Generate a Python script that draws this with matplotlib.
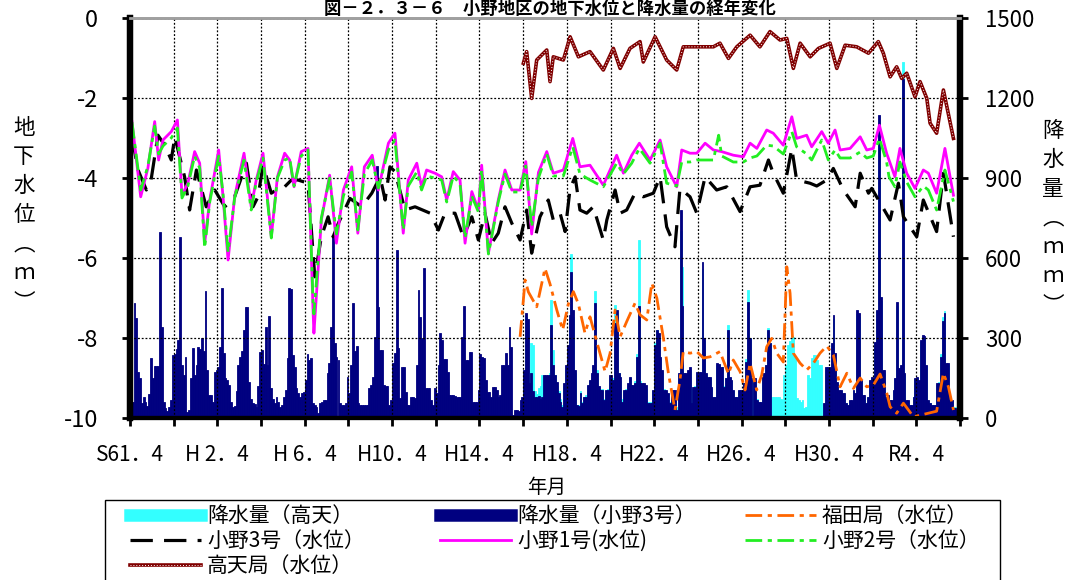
import numpy as np
import matplotlib
matplotlib.use('Agg')
import matplotlib.pyplot as plt
from matplotlib.lines import Line2D
from matplotlib.patches import Rectangle
from matplotlib.legend_handler import HandlerTuple

plt.rcParams['font.family'] = ['Noto Sans CJK JP', 'DejaVu Sans']
plt.rcParams['axes.unicode_minus'] = False

nan = np.nan

# ---------------- monthly precipitation (mm), fiscal-year rows Apr..Mar ----------------
rain_ono3_start = 1986 + 3 / 12          # April 1986
rain_ono3 = [
    [40, 60, 432, 374, 174, 150, 55, 77, 61, 45, 90, 224],       # FY1986
    [150, 196, 196, 196, 699, 342, 60, 36, 25, 40, 67, 236],
    [240, 260, 292, 680, 199, 161, 230, 24, 30, 150, 261, 161],
    [200, 265, 260, 301, 250, 476, 180, 86, 86, 60, 174, 180],
    [190, 267, 486, 242, 149, 142, 124, 60, 42, 45, 100, 199],   # FY1990
    [230, 250, 330, 418, 417, 136, 70, 55, 51, 42, 120, 249],
    [255, 202, 342, 200, 382, 111, 70, 55, 80, 60, 42, 49],
    [80, 105, 224, 489, 482, 236, 192, 111, 92, 80, 92, 99],
    [142, 240, 217, 224, 55, 49, 40, 17, 55, 61, 67, 67],
    [167, 205, 342, 680, 280, 230, 217, 55, 49, 49, 55, 152],    # FY1995
    [92, 200, 432, 250, 270, 55, 49, 49, 49, 49, 49, 111],
    [124, 155, 305, 946, 417, 255, 255, 124, 121, 121, 49, 67],
    [205, 242, 630, 261, 74, 192, 192, 99, 49, 49, 80, 80],
    [74, 200, 480, 380, 300, 561, 111, 111, 111, 67, 49, 111],
    [92, 200, 320, 292, 220, 220, 174, 86, 86, 86, 82, 77],      # FY2000
    [80, 80, 305, 420, 217, 217, 249, 249, 61, 61, 61, 105],
    [240, 230, 224, 142, 99, 99, 80, 117, 117, 105, 80, 86],
    [199, 199, 242, 199, 340, 265, 11, 30, 30, 27, 67, 80],
    [180, 392, 370, 130, 167, 100, 80, 80, 82, 70, 80, 161],
    [161, 161, 161, 349, 200, 161, 136, 92, 60, 42, 130, 200],   # FY2005
    [274, 386, 546, 405, 180, 49, 45, 92, 55, 80, 80, 124],
    [142, 167, 200, 430, 167, 120, 105, 105, 67, 105, 105, 161],
    [161, 142, 355, 405, 167, 152, 61, 105, 105, 130, 155, 124],
    [124, 130, 230, 420, 130, 130, 130, 124, 55, 55, 55, 105],
    [274, 330, 317, 230, 180, 105, 105, 92, 55, 105, 105, 105],  # FY2010
    [30, 167, 780, 420, 167, 170, 180, 192, 55, 117, 117, 174],
    [174, 174, 586, 300, 167, 155, 155, 117, 80, 80, 205, 202],
    [190, 192, 117, 150, 330, 155, 142, 105, 80, 80, 105, 105],
    [105, 130, 211, 436, 300, 149, 149, 149, 67, 61, 61, 155],
    [167, 200, 330, 280, nan, nan, nan, nan, nan, nan, nan, nan],  # FY2015
    [nan, nan, nan, nan, nan, nan, nan, nan, nan, nan, nan, nan],
    [nan, nan, nan, nan, nan, nan, nan, nan, nan, 55, 192, 190],
    [190, 280, 386, 242, 136, 105, 105, 92, 92, 55, 49, 67],
    [67, 105, 92, 405, 392, 142, 86, 86, 55, 80, 142, 155],
    [149, 286, 405, 1136, 455, 180, 180, 80, 86, 67, 67, 105],   # FY2020
    [149, 436, 186, 200, 1273, 167, 67, 67, 49, 49, 80, 149],
    [155, 142, 292, 311, 307, 200, 67, 55, 49, 49, 49, 130],
    [130, 230, 365, 392, 205, 205, 67, 67, 36, 36, 30, 20],
]

rain_takaten_start = 2004 + 3 / 12       # April 2004
rain_takaten = [
    [170, 380, 350, 150, 280, 274, 100, 90, 111, 120, 161, 150],  # FY2004
    [150, 150, 170, 442, 255, 161, 120, 100, 70, 50, 120, 180],
    [260, 380, 614, 380, 170, 50, 50, 100, 60, 80, 85, 120],
    [140, 160, 190, 476, 180, 110, 100, 110, 70, 100, 110, 150],
    [150, 150, 424, 380, 170, 140, 70, 100, 110, 120, 150, 120],
    [120, 140, 240, 667, 140, 120, 120, 110, 60, 60, 60, 100],
    [280, 330, 300, 220, 170, 110, 100, 90, 60, 100, 100, 100],   # FY2010
    [40, 160, 700, 567, 170, 160, 170, 180, 60, 110, 120, 170],
    [170, 170, 560, 290, 160, 150, 150, 110, 80, 80, 200, 200],
    [180, 190, 120, 150, 349, 150, 140, 100, 80, 80, 100, 100],
    [100, 130, 220, 480, 300, 150, 140, 140, 70, 60, 60, 150],
    [160, 200, 336, 280, 80, 80, 80, 80, 80, 70, 67, 161],        # FY2015
    [200, 274, 290, 307, 305, 230, 74, 67, 60, 67, 36, 42],
    [161, 149, 224, 236, 236, 217, 199, 199, 5, 50, 180, 180],
    [180, 270, 370, 230, 130, 100, 100, 90, 90, 55, 50, 65],
    [65, 100, 90, 390, 380, 140, 85, 80, 55, 80, 140, 150],
    [140, 280, 400, 1100, 440, 170, 170, 80, 80, 65, 65, 100],    # FY2020
    [145, 420, 180, 190, 1336, 160, 65, 65, 50, 50, 80, 145],
    [150, 140, 285, 305, 300, 195, 65, 55, 50, 50, 50, 125],
    [135, 240, 380, 400, 200, 200, 65, 65, 40, 40, 35, 25],
]

# ---------------- groundwater levels (m) ----------------
ono1_t = [1986.34, 1986.74, 1987.07, 1987.38, 1987.56, 1987.76, 1988.14, 1988.42, 1988.63, 1988.90,
          1989.21, 1989.44, 1989.67, 1989.90, 1990.31, 1990.51, 1990.74, 1991.04, 1991.47, 1991.80,
          1992.03, 1992.34, 1992.72, 1993.00, 1993.33, 1993.56, 1993.76, 1994.09, 1994.40, 1994.63,
          1994.67, 1995.01, 1995.39, 1995.70, 1996.02, 1996.40, 1996.68, 1996.98, 1997.34, 1997.62,
          1998.08, 1998.38, 1998.76, 1998.99, 1999.38, 1999.60, 1999.83, 2000.21, 2000.52, 2000.75,
          2001.05, 2001.36, 2001.59, 2001.90, 2002.20, 2002.35, 2002.66, 2003.11, 2003.42, 2003.73,
          2004.11, 2004.37, 2004.64, 2004.95, 2005.33, 2005.63, 2006.09, 2006.52, 2006.85, 2007.31,
          2007.92, 2008.53, 2008.84, 2009.22, 2009.57, 2010.06, 2010.52, 2010.82, 2011.28, 2011.51,
          2011.89, 2012.20, 2012.58, 2012.96, 2013.34, 2013.87, 2014.33, 2014.64, 2014.95, 2015.40,
          2015.70, 2016.16, 2016.55, 2016.77, 2017.23, 2017.46, 2017.92, 2018.22, 2018.53, 2018.76,
          2019.22, 2019.68, 2019.98, 2020.28, 2020.56, 2020.89, 2021.27, 2021.50, 2021.81, 2022.19,
          2022.57, 2022.80, 2023.18, 2023.56, 2023.95]
ono1_v = [-2.59, -4.47, -3.75, -2.59, -3.55, -3.05, -2.84, -2.55, -4.43, -4.13,
          -3.34, -3.63, -5.63, -4.55, -3.30, -4.47, -6.05, -4.47, -3.38, -4.72,
          -4.05, -3.38, -5.47, -3.97, -3.38, -3.55, -4.22, -3.34, -3.26, -7.30,
          -7.88, -5.05, -3.93, -5.63, -4.30, -3.72, -5.38, -3.72, -3.43, -4.30,
          -3.13, -2.88, -5.38, -4.05, -3.63, -4.22, -3.80, -3.88, -3.97, -4.55,
          -3.84, -4.05, -5.63, -4.34, -4.80, -3.68, -5.88, -4.55, -3.80, -4.30,
          -4.30, -3.59, -5.40, -3.86, -3.34, -3.88, -3.80, -3.01, -3.72, -3.68,
          -4.18, -3.43, -3.88, -3.43, -3.13, -3.55, -3.05, -3.72, -4.22, -3.30,
          -3.38, -3.38, -3.13, -3.30, -3.34, -3.43, -3.47, -3.13, -3.26, -2.80,
          -2.88, -3.18, -2.47, -3.01, -2.93, -3.22, -2.84, -3.13, -2.80, -3.30,
          -3.26, -2.97, -3.30, -3.26, -2.68, -3.38, -3.97, -3.26, -3.88, -4.26,
          -3.80, -3.88, -4.38, -3.26, -4.43]

ono2_t = [1986.34, 1986.74, 1987.07, 1987.38, 1987.56, 1987.76, 1988.14, 1988.42, 1988.63, 1988.90,
          1989.21, 1989.44, 1989.67, 1989.90, 1990.31, 1990.51, 1990.74, 1991.04, 1991.47, 1991.80,
          1992.03, 1992.34, 1992.72, 1993.00, 1993.33, 1993.56, 1993.76, 1994.09, 1994.40, 1994.63,
          1994.67, 1995.01, 1995.39, 1995.70, 1996.02, 1996.40, 1996.68, 1996.98, 1997.34, 1997.62,
          1998.08, 1998.38, 1998.76, 1998.99, 1999.38, 1999.60, 1999.83, 2000.21, 2000.52, 2000.75,
          2001.05, 2001.36, 2001.59, 2001.90, 2002.20, 2002.35, 2002.66, 2003.11, 2003.42, 2003.73,
          2004.11, 2004.37, 2004.64, 2004.95, 2005.33, 2005.63, 2006.09, 2006.52, 2006.85, 2007.31,
          2007.92, 2008.53, 2008.84, 2009.22, 2009.57, 2010.06, 2010.52, 2010.82, 2011.28, 2011.51,
          2011.89, 2012.20, 2012.58, 2012.96, 2013.20, 2013.34, 2013.87, 2014.33, 2014.64, 2014.95,
          2015.40, 2015.70, 2016.16, 2016.55, 2016.77, 2017.23, 2017.46, 2017.92, 2018.22, 2018.53,
          2018.76, 2019.22, 2019.68, 2019.98, 2020.28, 2020.56, 2020.89, 2021.00, 2021.27, 2021.50,
          2021.81, 2022.19, 2022.57, 2022.80, 2023.18, 2023.56, 2023.95]
ono2_v = [-2.60, -4.30, -3.70, -2.70, -3.40, -3.20, -3.00, -2.75, -4.50, -4.20,
          -3.45, -3.75, -5.75, -4.60, -3.45, -4.40, -5.85, -4.50, -3.55, -4.80,
          -4.10, -3.50, -5.50, -4.00, -3.55, -3.50, -4.20, -3.45, -3.30, -7.10,
          -7.40, -5.00, -4.00, -5.40, -4.45, -3.85, -5.30, -3.90, -3.55, -4.25,
          -3.30, -3.05, -5.30, -4.20, -3.85, -4.30, -3.95, -4.00, -4.05, -4.60,
          -3.95, -4.15, -5.50, -4.45, -4.85, -3.80, -5.90, -4.60, -3.90, -4.35,
          -4.35, -3.70, -5.22, -4.00, -3.40, -3.95, -3.95, -3.22, -3.90, -4.05,
          -4.22, -3.63, -3.90, -3.63, -3.26, -3.63, -3.13, -4.13, -4.20, -3.60,
          -3.60, -3.55, -3.55, -3.55, -2.93, -3.45, -3.60, -3.60, -3.50, -3.45,
          -3.18, -3.20, -3.40, -2.84, -3.22, -3.40, -3.55, -3.05, -3.55, -3.30,
          -3.50, -3.50, -3.35, -3.50, -3.45, -3.01, -3.60, -3.97, -4.22, -3.60,
          -4.10, -4.47, -4.20, -4.30, -4.80, -3.80, -4.59]

ono3_t = [1986.34, 1986.62, 1987.00, 1987.20, 1987.53, 1987.84, 1988.14, 1988.30, 1988.75, 1988.98,
          1989.29, 1989.74, 1990.13, 1990.59, 1991.04, 1991.58, 1991.88, 1992.11, 1992.34, 1992.72,
          1992.95, 1993.33, 1993.64, 1993.94, 1994.40, 1994.71, 1995.01, 1995.32, 1995.55, 1995.79,
          1996.32, 1996.86, 1997.32, 1997.70, 1997.93, 1998.15, 1998.38, 1998.84, 1999.30, 1999.99,
          2000.37, 2000.67, 2001.13, 2001.51, 2001.90, 2002.20, 2002.50, 2002.81, 2003.11, 2003.42,
          2003.73, 2004.11, 2004.41, 2004.64, 2005.02, 2005.40, 2005.63, 2005.94, 2006.17, 2006.40,
          2006.63, 2006.85, 2007.16, 2007.46, 2007.92, 2008.08, 2008.46, 2008.69, 2008.99, 2009.37,
          2009.75, 2010.21, 2010.52, 2010.82, 2011.20, 2011.43, 2011.89, 2012.20, 2012.58, 2013.11,
          2013.57, 2014.18, 2014.64, 2015.09, 2015.48, 2015.70, 2016.16, 2016.55, 2016.77, 2017.38,
          2017.69, 2018.15, 2018.45, 2018.91, 2019.45, 2019.68, 2020.06, 2020.21, 2021.05, 2021.43,
          2021.66, 2021.96, 2022.27, 2022.57, 2023.18, 2023.49, 2023.95]
ono3_v = [-2.97, -3.80, -4.30, -4.10, -2.93, -3.18, -3.55, -2.97, -3.97, -4.80,
          -3.80, -4.72, -4.30, -4.72, -4.47, -3.63, -4.72, -4.47, -3.68, -4.38,
          -4.30, -4.22, -4.05, -4.05, -4.13, -6.47, -5.47, -4.97, -5.47, -5.13,
          -4.51, -4.72, -4.38, -3.97, -4.55, -3.72, -3.84, -4.80, -4.72, -4.88,
          -5.30, -4.88, -4.88, -5.47, -4.97, -5.55, -4.88, -5.63, -5.38, -4.72,
          -5.13, -5.55, -4.80, -5.88, -4.97, -4.55, -5.05, -4.88, -5.34, -4.26,
          -3.97, -4.80, -4.88, -4.72, -5.55, -5.05, -4.30, -4.88, -4.80, -4.38,
          -4.47, -4.38, -3.97, -5.22, -5.72, -4.26, -4.47, -4.88, -3.97, -4.30,
          -4.22, -4.84, -4.22, -4.18, -3.55, -3.88, -4.38, -3.26, -4.05, -4.13,
          -4.20, -4.05, -3.76, -4.30, -4.72, -3.88, -4.38, -4.26, -5.05, -4.13,
          -4.97, -5.22, -5.47, -4.55, -5.34, -3.88, -5.47]

fukuda_t = [2004.11, 2004.34, 2004.49, 2004.87, 2005.25, 2005.48, 2005.79, 2006.06, 2006.32, 2006.55,
            2006.78, 2007.08, 2007.31, 2007.62, 2008.00, 2008.23, 2008.46, 2008.69, 2008.99, 2009.37,
            2009.60, 2009.91, 2010.14, 2010.37, 2010.67, 2010.90, 2011.20, 2011.43, 2011.58, 2011.89,
            2012.20, 2012.50, 2012.81, 2013.26, 2013.65, 2013.87, 2014.18, 2014.41, 2014.64, 2014.94,
            2015.17, 2015.40, 2015.63, 2015.86, 2016.16, 2016.32, 2016.47, 2016.62, 2016.93, 2017.23,
            2017.54, 2017.84, 2018.15, 2018.45, 2018.76, 2019.07, 2019.37, 2019.68, 2019.98, 2020.28,
            2020.59, 2020.90, 2021.05, 2021.35, 2021.66, 2022.12, 2023.18, 2023.49, 2023.72, 2023.95]
fukuda_v = [-7.97, -6.55, -6.85, -7.22, -6.26, -6.65, -7.30, -7.80, -7.15, -6.84,
            -7.15, -7.88, -7.47, -8.09, -8.84, -8.38, -7.30, -7.97, -7.59, -7.13,
            -7.42, -7.55, -6.63, -7.00, -8.00, -8.88, -9.80, -9.05, -8.34, -8.38,
            -8.34, -8.50, -8.47, -8.34, -8.90, -8.55, -8.84, -9.30, -8.63, -9.30,
            -8.93, -8.22, -8.01, -8.38, -8.60, -6.22, -6.88, -8.38, -8.63, -8.80,
            -8.63, -8.38, -8.20, -8.42, -9.22, -8.88, -9.26, -9.00, -9.22, -9.18,
            -8.90, -9.38, -9.72, -9.88, -9.63, -9.97, -9.83, -8.88, -9.22, -9.80]

takaten_t = [2004.26, 2004.41, 2004.64, 2004.87, 2005.33, 2005.48, 2005.63, 2006.09, 2006.40, 2006.78,
             2007.31, 2007.92, 2008.38, 2008.69, 2009.14, 2009.60, 2009.75, 2010.29, 2010.82, 2011.28,
             2011.58, 2012.35, 2012.96, 2013.26, 2013.65, 2014.03, 2014.64, 2015.09, 2015.55, 2016.01,
             2016.32, 2016.62, 2016.93, 2017.39, 2017.77, 2018.30, 2018.61, 2018.99, 2019.52, 2020.06,
             2020.51, 2020.74, 2021.05, 2021.35, 2021.58, 2021.81, 2022.19, 2022.42, 2022.73, 2022.88,
             2023.18, 2023.49, 2023.95]
takaten_v = [-1.13, -0.84, -2.01, -1.05, -0.80, -1.59, -0.97, -1.05, -0.47, -0.97,
             -0.84, -1.30, -0.76, -1.26, -0.76, -0.59, -1.10, -0.47, -1.05, -1.30,
             -0.72, -0.72, -0.72, -0.63, -1.01, -0.72, -0.43, -0.72, -0.34, -0.55,
             -0.51, -1.26, -0.63, -0.97, -0.76, -0.63, -1.26, -0.68, -0.72, -0.88,
             -0.59, -0.88, -1.47, -1.22, -1.51, -1.38, -1.97, -1.59, -2.01, -2.63,
             -2.88, -1.80, -3.01]

x_tick_labels = ['S61．4', 'H 2．4', 'H 6．4', 'H10．4', 'H14．4', 'H18．4',
                 'H22．4', 'H26．4', 'H30．4', 'R4．4']
left_ticks = [0, -2, -4, -6, -8, -10]
right_ticks = [0, 300, 600, 900, 1200, 1500]

# ---------------- figure ----------------
W, H = 1073, 580
fig = plt.figure(figsize=(W / 100, H / 100), dpi=100)
L, R, T, B = 130, 960, 18, 418
ax = fig.add_axes([L / W, 1 - B / H, (R - L) / W, (B - T) / H])
axr = ax.twinx()
ax.set_zorder(axr.get_zorder() + 1)
ax.patch.set_visible(False)

x0 = 1986.25
x1 = 2024.25

CYAN = '#33FFFF'
NAVY = '#000080'

# bars
r3 = np.array(rain_ono3, dtype=float).ravel()
t3 = rain_ono3_start + np.arange(len(r3)) / 12
rt = np.array(rain_takaten, dtype=float).ravel()
tt = rain_takaten_start + np.arange(len(rt)) / 12
axr.bar(tt, rt, width=1 / 12, align='edge', color=CYAN, edgecolor=CYAN, linewidth=0.6)
axr.bar(t3, r3, width=1 / 12, align='edge', color=NAVY, edgecolor=NAVY, linewidth=0.6)
axr.set_ylim(0, 1500)
axr.set_yticks(right_ticks)
axr.set_yticklabels([str(v) for v in right_ticks])

# lines
ax.plot(ono3_t, ono3_v, color='black', lw=2.3, dashes=(7, 3.5))
ax.plot(ono1_t, ono1_v, color='#FF00FF', lw=2.0)
ax.plot(ono2_t, ono2_v, color='#22EE22', lw=2.0, dashes=(6, 2, 1.5, 2))
ax.plot(fukuda_t, fukuda_v, color='#FF6600', lw=2.0, dashes=(6, 2, 1.5, 2))
ax.plot(takaten_t, takaten_v, color='#800000', lw=2.6)
ax.plot(takaten_t, takaten_v, color='white', lw=0.7, dashes=(1, 2))

ax.set_xlim(x0, x1)
ax.set_ylim(-10, 0)
ax.set_yticks(left_ticks)
ax.set_yticklabels([str(v) for v in left_ticks])
xt = x0 + np.arange(0, 39, 2)
ax.set_xticks(xt)
lbls = []
for i in range(len(xt)):
    lbls.append(x_tick_labels[i // 2] if i % 2 == 0 and i // 2 < len(x_tick_labels) else '')
ax.set_xticklabels(lbls)
ax.grid(True, ls=(0, (1.5, 1.5)), color='black', lw=0.9)

ax.tick_params(axis='x', direction='out', length=6, width=2, labelsize=15, pad=13)
ax.tick_params(axis='y', direction='out', length=6, width=2, labelsize=17, pad=17)
axr.tick_params(axis='y', direction='out', length=6, width=2, labelsize=16, pad=12)

for a in (ax, axr):
    a.spines['left'].set_linewidth(4.5)
    a.spines['right'].set_linewidth(4.5)
    a.spines['bottom'].set_linewidth(3)
    a.spines['top'].set_linewidth(2)
    a.spines['top'].set_color('#A0A0A0')

# axis labels
fig.text(24 / W, 1 - 215 / H, '\n'.join('地下水位︵ｍ︶'), ha='center', va='center',
         fontsize=15.5, linespacing=1.42)
fig.text(1053 / W, 1 - 218 / H, '\n'.join('降水量︵ｍｍ︶'), ha='center', va='center',
         fontsize=15.5, linespacing=1.42)
fig.text(547 / W, 1 - 487 / H, '年月', ha='center', va='center', fontsize=14)
fig.text(550 / W, 1 - 9 / H, '図－２．３－６　小野地区の地下水位と降水量の経年変化',
         ha='center', va='center', fontsize=12.5, fontweight='bold')

# legend: frame + three columns
fig.patches.append(Rectangle((105 / W, 1 - 592 / H), 895 / W, 92 / H,
                             transform=fig.transFigure, facecolor='white',
                             edgecolor='black', lw=1.0, zorder=0))
h_cyan = Line2D([], [], color=CYAN, lw=9)
h_navy = Line2D([], [], color=NAVY, lw=9)
h_fuk = Line2D([], [], color='#FF6600', lw=2, dashes=(6, 2, 1.5, 2))
h_o3 = Line2D([], [], color='black', lw=2.3, dashes=(7, 3.5))
h_o1 = Line2D([], [], color='#FF00FF', lw=2)
h_o2 = Line2D([], [], color='#22EE22', lw=2, dashes=(6, 2, 1.5, 2))
h_tk = (Line2D([], [], color='#800000', lw=2.6), Line2D([], [], color='white', lw=0.7, dashes=(1, 2)))

columns = [
    (130, [h_cyan, h_o3, h_tk], ['降水量（高天）', '小野3号（水位）', '高天局（水位）']),
    (440, [h_navy, h_o1], ['降水量（小野3号）', '小野1号(水位)']),
    (745, [h_fuk, h_o2], ['福田局（水位）', '小野2号（水位）']),
]
for xpx, hs, ls in columns:
    fig.legend(hs, ls, loc='upper left', bbox_to_anchor=(xpx / W, 1 - 505 / H),
               fontsize=15, frameon=False, handlelength=3.4, handletextpad=0.3,
               borderpad=0, borderaxespad=0, labelspacing=0.15,
               handler_map={tuple: HandlerTuple(ndivide=1)})

fig.savefig('out.png', dpi=100)
